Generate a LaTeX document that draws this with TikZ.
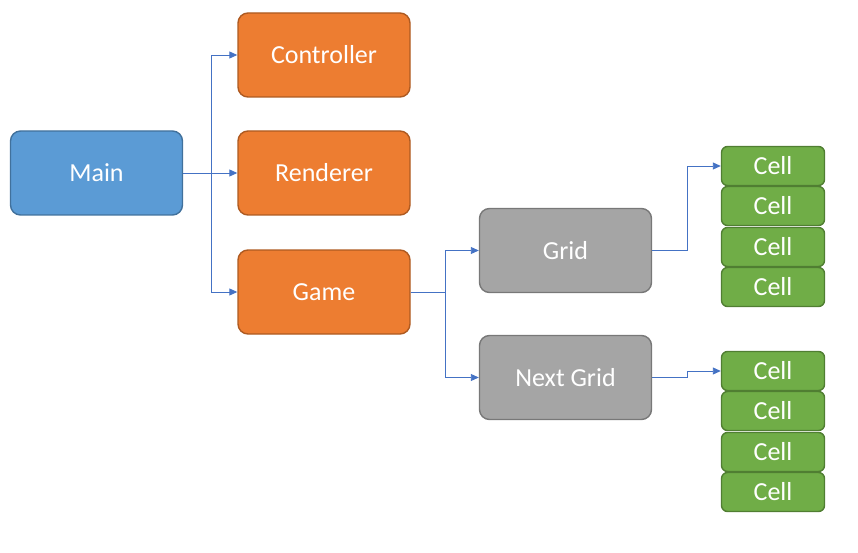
\documentclass[tikz,border=0pt]{standalone}
\usepackage{fontspec}
\setmainfont{Carlito}
\usepackage{tikz}
\usetikzlibrary{shapes,arrows,arrows.meta,calc,positioning}
\definecolor{mainblue}{HTML}{5B9BD5}
\definecolor{mainline}{HTML}{41719C}
\definecolor{orng}{HTML}{ED7D31}
\definecolor{orngline}{HTML}{AE5A21}
\definecolor{gry}{HTML}{A5A5A5}
\definecolor{gryline}{HTML}{787878}
\definecolor{grn}{HTML}{70AD47}
\definecolor{grnline}{HTML}{507E32}
\definecolor{link}{HTML}{4472C4}
\tikzstyle{block} = [rectangle, rounded corners=10pt, line width=1.4pt, text=white, minimum width=172pt, minimum height=84pt, font=\fontsize{26}{30}\selectfont]
\tikzstyle{cellbox} = [rectangle, rounded corners=6pt, line width=1.4pt, text=white, fill=grn, draw=grnline, minimum width=103pt, minimum height=39pt, font=\fontsize{26}{30}\selectfont]
\tikzstyle{arrow} = [line width=0.9pt, draw=link, -{Triangle[length=8pt,width=7pt]}]

\begin{document}
\begin{tikzpicture}[x=1pt,y=-1pt]
\useasboundingbox (0,0) rectangle (858,553);

\node[block, fill=mainblue, draw=mainline] (main) at (96.5,173) {Main};
\node[block, fill=orng, draw=orngline] (controller) at (324,55) {Controller};
\node[block, fill=orng, draw=orngline] (renderer) at (324,173) {Renderer};
\node[block, fill=orng, draw=orngline] (game) at (324,292) {Game};
\node[block, fill=gry, draw=gryline] (grid) at (565.5,250.5) {Grid};
\node[block, fill=gry, draw=gryline] (nextgrid) at (565.5,377.5) {Next Grid};

% cells of both grids
\foreach \y [count=\i] in {166,206,247,287}
  \node[cellbox] (cell\i) at (773,\y) {Cell};
\foreach \y [count=\i] in {371,411,452,492}
  \node[cellbox] (nextcell\i) at (773,\y) {Cell};

\draw[arrow] (main.east) -- ++(28,0) |- (controller.west);
\draw[arrow] (main.east) -- (renderer.west);
\draw[arrow] (main.east) -- ++(28,0) |- (game.west);

\draw[arrow] (game.east) -- ++(35,0) |- (grid.west);
\draw[arrow] (game.east) -- ++(35,0) |- (nextgrid.west);

\draw[arrow] (grid.east) -- ++(35,0) |- (cell1.west);
\draw[arrow] (nextgrid.east) -- ++(35,0) |- (nextcell1.west);
\end{tikzpicture}
\end{document}
